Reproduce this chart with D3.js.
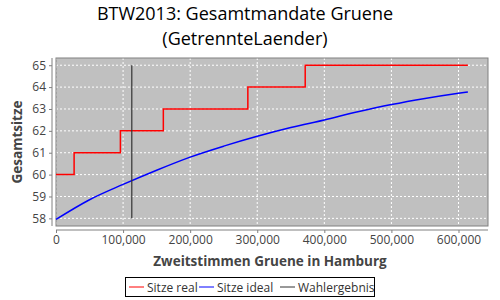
<!DOCTYPE html>
<html>
<head>
<meta charset="utf-8">
<script src="https://cdn.jsdelivr.net/npm/d3@7"></script>
<style>
  body { margin: 0; background: #fff; }
  svg { display: block; font-family: "Open Sans", "DejaVu Sans", sans-serif; }
</style>
</head>
<body>
<div id="chart"></div>
<script>
// data
const realX = [0, 27000, 96000, 160000, 286000, 371500, 614000];
const realY = [60, 61, 62, 63, 64, 65, 65];
const idealX = [0, 50000, 100000, 150000, 200000, 250000, 300000, 350000, 400000, 450000, 500000, 550000, 600000, 614000];
const idealY = [57.95, 58.85, 59.55, 60.2, 60.8, 61.3, 61.75, 62.15, 62.5, 62.87, 63.2, 63.48, 63.72, 63.78];
const wahlX = [113000, 113000];
const wahlY = [58, 65];
const xTicks = [0, 100000, 200000, 300000, 400000, 500000, 600000];
const yTicks = [58, 59, 60, 61, 62, 63, 64, 65];
const legendNames = ["Sitze real", "Sitze ideal", "Wahlergebnis"];
const legendColors = ["#ff0000", "#0000ff", "#333333"];

const width = 500, height = 300;
const margin = { top: 58, right: 12, bottom: 74, left: 56 };
const iw = width - margin.left - margin.right;
const ih = height - margin.top - margin.bottom;

const svg = d3.select("#chart").append("svg")
    .attr("width", width)
    .attr("height", height);

const x = d3.scaleLinear().domain([0, 644000]).range([margin.left, margin.left + iw]);
const y = d3.scaleLinear().domain([57.65, 65.33]).range([margin.top + ih, margin.top]);

// title
svg.append("text")
    .attr("x", 245).attr("y", 20)
    .attr("text-anchor", "middle")
    .style("font-size", "18px")
    .attr("fill", "#000")
    .text("BTW2013: Gesamtmandate Gruene");
svg.append("text")
    .attr("x", 245).attr("y", 45)
    .attr("text-anchor", "middle")
    .style("font-size", "18px")
    .attr("fill", "#000")
    .text("(GetrennteLaender)");

// plot background
svg.append("rect")
    .attr("x", margin.left).attr("y", margin.top)
    .attr("width", iw).attr("height", ih)
    .attr("fill", "#c0c0c0");

// grid
svg.append("g")
    .selectAll("line")
    .data(xTicks)
    .join("line")
    .attr("x1", d => x(d)).attr("x2", d => x(d))
    .attr("y1", margin.top).attr("y2", margin.top + ih)
    .attr("stroke", "#fff")
    .attr("stroke-dasharray", "2,2");
svg.append("g")
    .selectAll("line")
    .data(yTicks)
    .join("line")
    .attr("x1", margin.left).attr("x2", margin.left + iw)
    .attr("y1", d => y(d)).attr("y2", d => y(d))
    .attr("stroke", "#fff")
    .attr("stroke-dasharray", "2,2");

svg.append("rect")
    .attr("x", margin.left).attr("y", margin.top)
    .attr("width", iw).attr("height", ih)
    .attr("fill", "none")
    .attr("stroke", "#808080");

// lines
const real = realX.map((d, i) => [d, realY[i]]);
const ideal = idealX.map((d, i) => [d, idealY[i]]);
const wahl = wahlX.map((d, i) => [d, wahlY[i]]);

const stepLine = d3.line().x(d => x(d[0])).y(d => y(d[1])).curve(d3.curveStepAfter);
const smoothLine = d3.line().x(d => x(d[0])).y(d => y(d[1])).curve(d3.curveMonotoneX);
const plainLine = d3.line().x(d => x(d[0])).y(d => y(d[1]));

svg.append("path").datum(ideal)
    .attr("d", smoothLine)
    .attr("fill", "none").attr("stroke", legendColors[1]).attr("stroke-width", 1.5);
svg.append("path").datum(real)
    .attr("d", stepLine)
    .attr("fill", "none").attr("stroke", legendColors[0]).attr("stroke-width", 1.5);
svg.append("path").datum(wahl)
    .attr("d", plainLine)
    .attr("fill", "none").attr("stroke", legendColors[2]).attr("stroke-width", 1.2);

// axes
function xAxis(g) {
    g.attr("transform", `translate(0,${margin.top + ih + 4})`)
        .call(d3.axisBottom(x).tickValues(xTicks).tickSize(3).tickPadding(2).tickFormat(d3.format(",")))
        .style("font-size", "12px")
        .style("font-family", "Open Sans, DejaVu Sans, sans-serif");
    g.select(".domain").attr("stroke", "#808080").attr("d", `M${margin.left},0H${margin.left + iw}`);
    g.selectAll(".tick line").attr("stroke", "#808080");
    g.selectAll(".tick text").attr("fill", "#444");
}
function yAxis(g) {
    g.attr("transform", `translate(${margin.left - 4},0)`)
        .call(d3.axisLeft(y).tickValues(yTicks).tickSize(3).tickPadding(3))
        .style("font-size", "12px")
        .style("font-family", "Open Sans, DejaVu Sans, sans-serif");
    g.select(".domain").attr("stroke", "#808080").attr("d", `M0,${margin.top}V${margin.top + ih}`);
    g.selectAll(".tick line").attr("stroke", "#808080");
    g.selectAll(".tick text").attr("fill", "#444");
}
svg.append("g").call(xAxis);
svg.append("g").call(yAxis);

// axis titles
svg.append("text")
    .attr("x", margin.left + iw / 2 - 2).attr("y", 266)
    .attr("text-anchor", "middle")
    .style("font-size", "13.5px").style("font-weight", "bold")
    .attr("fill", "#444")
    .text("Zweitstimmen Gruene in Hamburg");
svg.append("text")
    .attr("transform", "rotate(-90)")
    .attr("x", -(margin.top + ih / 2)).attr("y", 22)
    .attr("text-anchor", "middle")
    .style("font-size", "13.5px").style("font-weight", "bold")
    .attr("fill", "#444")
    .text("Gesamtsitze");

// legend
const legend = svg.append("g");
legend.append("rect")
    .attr("x", 125.5).attr("y", 277.5)
    .attr("width", 249).attr("height", 19)
    .attr("fill", "#fff").attr("stroke", "#000");
const legendX = [129, 199, 280];
legendNames.forEach((name, i) => {
    legend.append("line")
        .attr("x1", legendX[i]).attr("x2", legendX[i] + 15)
        .attr("y1", 287).attr("y2", 287)
        .attr("stroke", legendColors[i]);
    legend.append("text")
        .attr("x", legendX[i] + 18).attr("y", 291.5)
        .style("font-size", "12px")
        .attr("fill", "#333")
        .text(name);
});
</script>
</body>
</html>
